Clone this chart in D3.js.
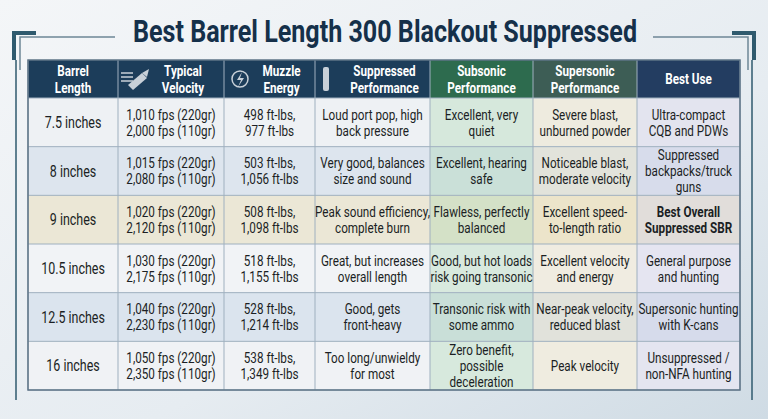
<!DOCTYPE html>
<html><head><meta charset="utf-8">
<script src="https://cdn.jsdelivr.net/npm/d3@7"></script>
<style>body{margin:0;overflow:hidden}svg{display:block}</style>
</head><body><svg id="c" width="768" height="419"></svg>
<script>
const title = "Best Barrel Length 300 Blackout Suppressed";
const headers = [["Barrel","Length"],["Typical","Velocity"],["Muzzle","Energy"],["Suppressed","Performance"],["Subsonic","Performance"],["Supersonic","Performance"],["Best Use"]];
const barrelLengths = ["7.5 inches","8 inches","9 inches","10.5 inches","12.5 inches","16 inches"];
const velocity = [["1,010 fps (220gr)","2,000 fps (110gr)"],["1,015 fps (220gr)","2,080 fps (110gr)"],["1,020 fps (220gr)","2,120 fps (110gr)"],["1,030 fps (220gr)","2,175 fps (110gr)"],["1,040 fps (220gr)","2,230 fps (110gr)"],["1,050 fps (220gr)","2,350 fps (110gr)"]];
const energy = [["498 ft-lbs,","977 ft-lbs"],["503 ft-lbs,","1,056 ft-lbs"],["508 ft-lbs,","1,098 ft-lbs"],["518 ft-lbs,","1,155 ft-lbs"],["528 ft-lbs,","1,214 ft-lbs"],["538 ft-lbs,","1,349 ft-lbs"]];
const suppressed = [["Loud port pop, high","back pressure"],["Very good, balances","size and sound"],["Peak sound efficiency,","complete burn"],["Great, but increases","overall length"],["Good, gets","front-heavy"],["Too long/unwieldy","for most"]];
const subsonic = [["Excellent, very","quiet"],["Excellent, hearing","safe"],["Flawless, perfectly","balanced"],["Good, but hot loads","risk going transonic"],["Transonic risk with","some ammo"],["Zero benefit,","possible","deceleration"]];
const supersonic = [["Severe blast,","unburned powder"],["Noticeable blast,","moderate velocity"],["Excellent speed-","to-length ratio"],["Excellent velocity","and energy"],["Near-peak velocity,","reduced blast"],["Peak velocity"]];
const bestUse = [["Ultra-compact","CQB and PDWs"],["Suppressed","backpacks/truck","guns"],["Best Overall","Suppressed SBR"],["General purpose","and hunting"],["Supersonic hunting","with K-cans"],["Unsuppressed /","non-NFA hunting"]];

const colEdges=[28,118,224,315,430,533,637,740];
const headCol=["#1c3d5a","#1c3d5a","#1c3d5a","#1c3d5a","#2d6b4e","#3d5d55","#233d61"];
const rowBase=["#eef1f4","#dde5ee","#ebe7d6","#f1f3f6","#dbe4ee","#f0f2f5"];
const colTint=[null,null,null,null,"#9fd3a5","#f0dfae","#c9c6e4"];
const SX=0.78;

const svg=d3.select("#c");
const defs=svg.append("defs");
const g=defs.append("linearGradient").attr("id","bg").attr("x1",0).attr("y1",0).attr("x2",1).attr("y2",1);
g.append("stop").attr("offset","0").attr("stop-color","#f4f6f8");
g.append("stop").attr("offset","0.6").attr("stop-color","#e6ecf1");
g.append("stop").attr("offset","1").attr("stop-color","#cfdbe4");
svg.append("rect").attr("width",768).attr("height",419).attr("fill","url(#bg)");

const font="Roboto,sans-serif";
function ntext(parent,cx,cy,lines,size,weight,fill,lh,sx){
  const gg=parent.append("g").attr("transform",`translate(${cx},${cy}) scale(${sx||SX},1)`);
  const t=gg.append("text").attr("text-anchor","middle").attr("font-family",font).attr("font-size",size).attr("font-weight",weight).attr("fill",fill);
  lines.forEach((l,k)=>t.append("tspan").attr("x",0).attr("y",size*0.36+(k-(lines.length-1)/2)*lh).text(l));
}
ntext(svg,385,31,[title],31,"bold","#15304a",30,0.81);
const deco=svg.append("g").attr("fill","none");
deco.append("path").attr("d","M14,60 V33 H36").attr("stroke","#2f5a6e").attr("stroke-width",4);
deco.append("path").attr("d","M20,70 V37 H115").attr("stroke","#6d8696").attr("stroke-width",1.5);
deco.append("path").attr("d","M754,60 V33 H732").attr("stroke","#2f5a6e").attr("stroke-width",4);
deco.append("path").attr("d","M748,70 V37 H653").attr("stroke","#6d8696").attr("stroke-width",1.5);
deco.append("path").attr("d","M16,60 V400").attr("stroke","#2f5a6e").attr("stroke-width",1.5);
deco.append("path").attr("d","M752,60 V400").attr("stroke","#2f5a6e").attr("stroke-width",1.5);

const y=d3.scaleBand().domain(d3.range(6)).range([98,390]);
const headTop=60, headBot=98;
const cols=[barrelLengths.map(d=>[d]),velocity,energy,suppressed,subsonic,supersonic,bestUse];

const T=svg.append("g");
headers.forEach((h,i)=>{
  const x0=colEdges[i],x1=colEdges[i+1];
  T.append("rect").attr("x",x0).attr("y",headTop).attr("width",x1-x0).attr("height",headBot-headTop).attr("fill",headCol[i]);
});
cols.forEach((col,i)=>{
  const x0=colEdges[i],x1=colEdges[i+1];
  col.forEach((lines,r)=>{
    T.append("rect").attr("x",x0).attr("y",y(r)).attr("width",x1-x0).attr("height",y.bandwidth()).attr("fill",rowBase[r]);
    if(colTint[i]) T.append("rect").attr("x",x0).attr("y",y(r)).attr("width",x1-x0).attr("height",y.bandwidth()).attr("fill",colTint[i]).attr("opacity",0.3);
  });
});
const grid=T.append("g").attr("stroke","#9fb0bf").attr("stroke-width",1);
colEdges.forEach(x=>grid.append("line").attr("x1",x).attr("x2",x).attr("y1",headTop).attr("y2",390));
d3.range(7).forEach(r=>{const yy=r<6?y(r):390;grid.append("line").attr("x1",28).attr("x2",740).attr("y1",yy).attr("y2",yy);});
T.append("rect").attr("x",28).attr("y",headTop).attr("width",712).attr("height",330).attr("fill","none").attr("stroke","#5e7487").attr("stroke-width",1.5);

headers.forEach((h,i)=>{
  const x0=colEdges[i],x1=colEdges[i+1];
  const shift=(i>=1&&i<=3)?12:0;
  ntext(T,(x0+x1)/2+shift,(headTop+headBot)/2,h,15,"bold","#fff",17);
});
cols.forEach((col,i)=>{
  const x0=colEdges[i],x1=colEdges[i+1];
  col.forEach((lines,r)=>{
    const bold=(i===6&&r===2);
    ntext(T,(x0+x1)/2,y(r)+y.bandwidth()/2,lines,i===0?16:15,bold?"bold":"normal","#1b1f24",16);
  });
});
const ic=T.append("g");
ic.append("path").attr("d","M128,85 l14,-12 l5,5 l-14,12 z").attr("fill","#c8d0d8");
ic.append("path").attr("d","M142,73 l7,-4 l-2,8 z").attr("fill","#c8d0d8");
[0,1,2].forEach(k=>ic.append("line").attr("x1",121).attr("x2",133).attr("y1",73+k*4).attr("y2",73+k*4).attr("stroke","#c8d0d8").attr("stroke-width",1.5));
ic.append("circle").attr("cx",240).attr("cy",79).attr("r",8).attr("fill","none").attr("stroke","#c8d0d8").attr("stroke-width",1.5);
ic.append("path").attr("d","M242,72 l-5,8 h4 l-3,7 l6,-9 h-4 z").attr("fill","#c8d0d8");
ic.append("rect").attr("x",323).attr("y",67).attr("width",6).attr("height",24).attr("rx",2).attr("fill","#c8d0d8");
</script></body></html>
